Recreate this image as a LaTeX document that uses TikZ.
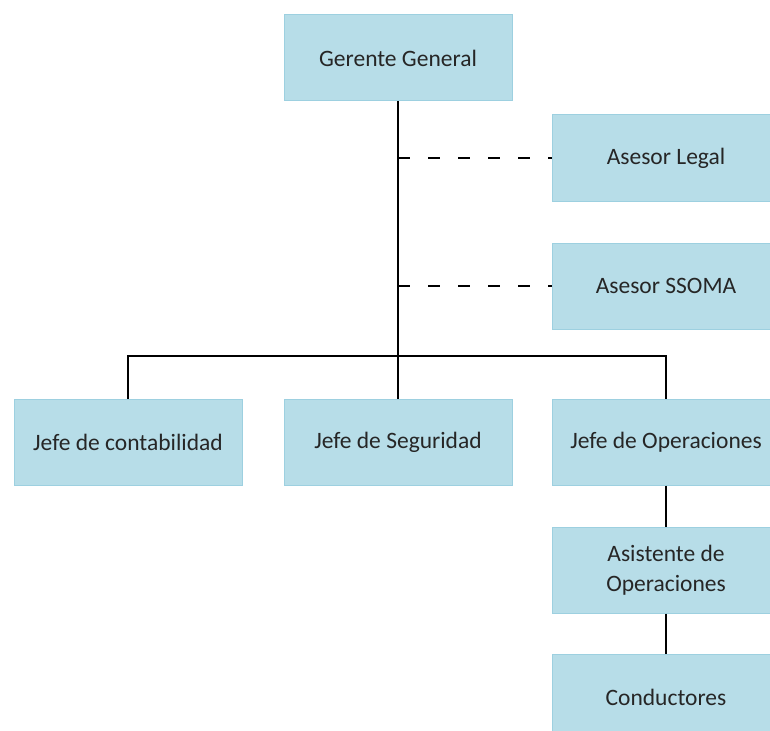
\documentclass[tikz,border=0pt]{standalone}
\usepackage{fontspec}
\setmainfont{Carlito}
\definecolor{boxfill}{HTML}{B7DDE8}
\definecolor{boxline}{HTML}{9DD0E0}
\definecolor{txt}{HTML}{262626}
\begin{document}
\begin{tikzpicture}[x=1pt,y=-1pt,
  orgbox/.style={draw=boxline, line width=1pt, fill=boxfill, minimum width=228pt, minimum height=86pt,
    inner sep=0pt, align=center, text=txt, font=\fontsize{23.5}{30}\selectfont},
  link/.style={line width=1.6pt, black},
  dlink/.style={line width=1.6pt, black, dash pattern=on 12pt off 18pt}]
\useasboundingbox (0,0) rectangle (770,730);
\node[orgbox] (gg) at (398,58) {Gerente General};
\node[orgbox] (al) at (666,158) {Asesor Legal};
\node[orgbox] (as) at (666,286) {Asesor SSOMA};
\node[orgbox] (jc) at (128,442) {Jefe de contabilidad};
\node[orgbox] (js) at (398,442) {Jefe de Seguridad};
\node[orgbox] (jo) at (666,442) {Jefe de Operaciones};
\node[orgbox] (ao) at (666,570) {Asistente de\\Operaciones};
\node[orgbox] (co) at (666,697) {Conductores};
\coordinate (bus) at (398,356);
\draw[link] (gg.south) -- (js.north);
\draw[link] (jc.north) |- (bus) -| (jo.north);
\draw[dlink] (gg.south |- al.west) -- (al.west);
\draw[dlink] (gg.south |- as.west) -- (as.west);
\draw[link] (jo.south) -- (ao.north);
\draw[link] (ao.south) -- (co.north);
\end{tikzpicture}
\end{document}
